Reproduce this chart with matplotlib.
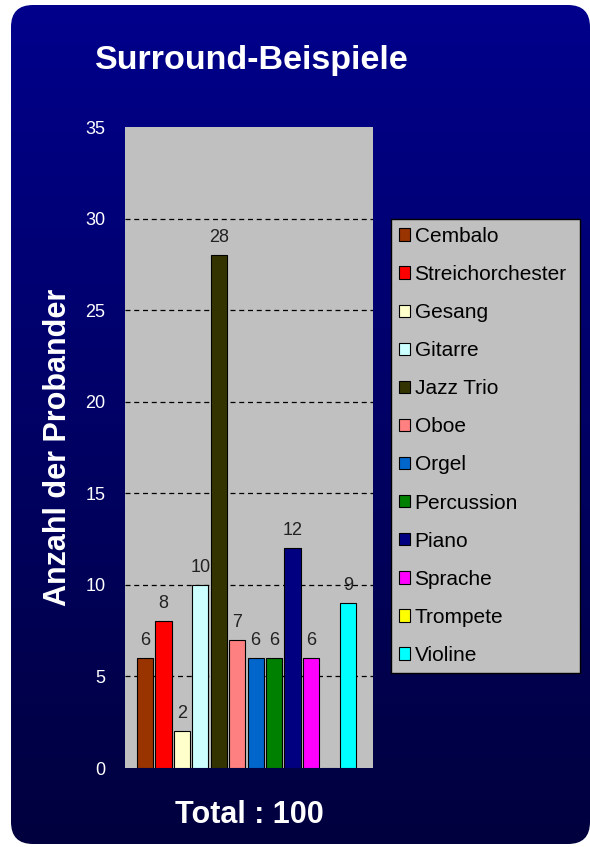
import numpy as np
import matplotlib
matplotlib.use("Agg")
import matplotlib.pyplot as plt
from matplotlib.patches import FancyBboxPatch, Patch

plt.rcParams["font.family"] = ["Liberation Sans", "DejaVu Sans"]

categories = ["Cembalo", "Streichorchester", "Gesang", "Gitarre", "Jazz Trio", "Oboe",
              "Orgel", "Percussion", "Piano", "Sprache", "Trompete", "Violine"]
counts = [6, 8, 2, 10, 28, 7, 6, 6, 12, 6, 0, 9]
colors = ["#993300", "#ff0000", "#ffffcc", "#ccffff", "#333300", "#ff8080",
          "#0066cc", "#008000", "#000080", "#ff00ff", "#ffff00", "#00ffff"]
yticks = [0, 5, 10, 15, 20, 25, 30, 35]

W, H = 590, 847
fig = plt.figure(figsize=(W / 100, H / 100), dpi=100)
fig.patch.set_facecolor("white")

# --- rounded navy background with vertical gradient ---
bg = fig.add_axes([0, 0, 1, 1])
bg.set_xlim(0, W); bg.set_ylim(0, H); bg.axis("off")
grad = np.linspace(0, 1, 256).reshape(-1, 1)
top = np.array([0, 0, 140]) / 255
bot = np.array([0, 0, 62]) / 255
img = (bot[None, None, :] * (1 - grad[:, :, None]) + top[None, None, :] * grad[:, :, None])
im = bg.imshow(img, extent=[0, W, 0, H], origin="lower", aspect="auto")
box = FancyBboxPatch((11, 3), W - 11, H - 8, boxstyle="round,pad=0,rounding_size=22",
                     transform=bg.transData, facecolor="none", edgecolor="none")
bg.add_patch(box)
im.set_clip_path(box)

# --- plot area ---
ax = fig.add_axes([125 / W, 79 / H, 248 / W, 641 / H])
ax.set_facecolor("#c0c0c0")
x = np.arange(len(categories))
ax.bar(x, counts, width=0.88, color=colors, edgecolor="black", linewidth=0.8, zorder=3)
for xi, v in zip(x, counts):
    if v > 0:
        ax.text(xi, v + 0.5, str(v), ha="center", va="bottom", fontsize=13, color="#222222", zorder=4)

ax.set_xlim(-1.08, 12.36)
ax.set_ylim(0, 35)
ax.set_yticks(yticks)
ax.set_xticks([])
ax.tick_params(axis="y", length=0, pad=14, labelcolor="white", labelsize=13)
ax.yaxis.grid(True, linestyle=(0, (4, 3)), color="black", linewidth=0.9, zorder=1)
gl = ax.get_ygridlines()
gl[0].set_visible(False); gl[-1].set_visible(False)
for s in ax.spines.values():
    s.set_visible(False)
ax.set_ylabel("Anzahl der Probander", color="white", fontsize=22, fontweight="bold", labelpad=9)
ax.set_xlabel("Total : 100", color="white", fontsize=22, fontweight="bold", labelpad=23)

fig.text(252 / W, 1 - 60 / H, "Surround-Beispiele", color="white", fontsize=24.5,
         fontweight="bold", ha="center", va="center")

handles = [Patch(facecolor=c, edgecolor="black", linewidth=0.8) for c in colors]
leg = fig.legend(handles, categories, loc="upper left", mode="expand",
                 bbox_to_anchor=(391 / W, 1 - 220 / H, 189 / W, 0.001), fontsize=15,
                 frameon=True, fancybox=False, handlelength=0.55, handleheight=0.55,
                 handletextpad=0.2, labelspacing=0.915, borderpad=0.38, borderaxespad=0)
leg.get_frame().set_facecolor("#c0c0c0")
leg.get_frame().set_edgecolor("black")
leg.get_frame().set_alpha(1)

fig.savefig("out.png", dpi=100, facecolor=fig.get_facecolor())
